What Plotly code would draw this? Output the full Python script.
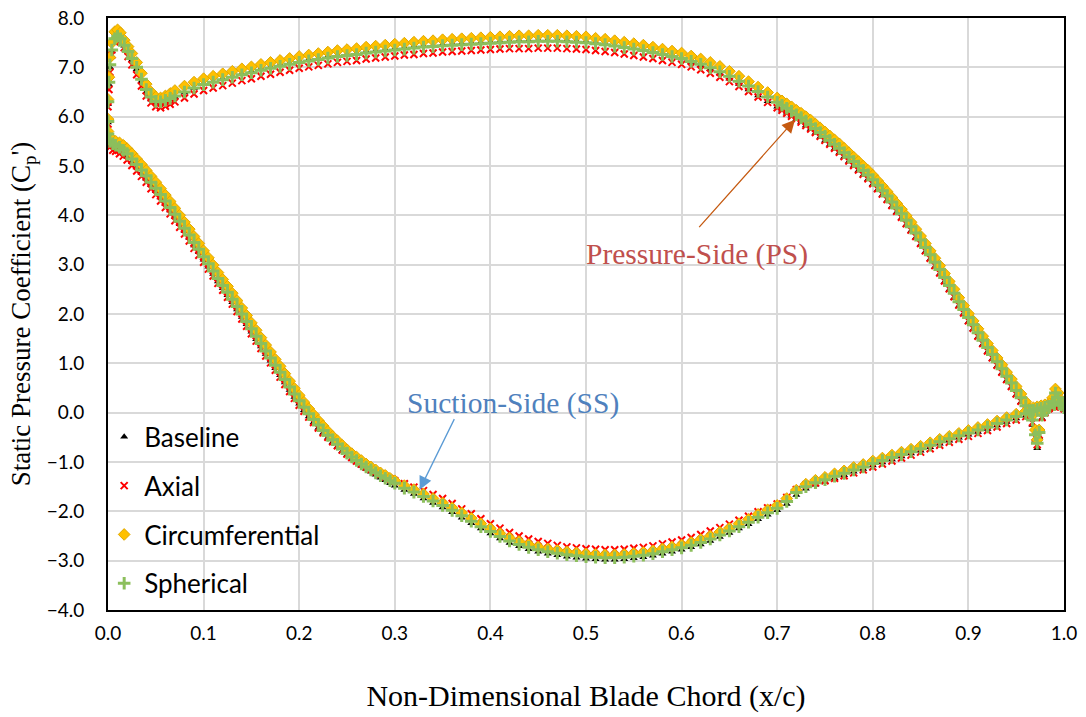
import plotly.graph_objects as go

# ---------------- data ----------------
X_PS = [0.000, 0.000, 0.001, 0.002, 0.004, 0.007, 0.010, 0.013, 0.017, 0.021, 0.025, 0.030, 0.035, 0.040, 0.045,
        0.050, 0.055, 0.060, 0.065, 0.070, 0.080, 0.090,
        0.10, 0.11, 0.12, 0.13, 0.14, 0.15, 0.16, 0.17, 0.18, 0.19,
        0.20, 0.21, 0.22, 0.23, 0.24, 0.25, 0.26, 0.27, 0.28, 0.29,
        0.30, 0.31, 0.32, 0.33, 0.34, 0.35, 0.36, 0.37, 0.38, 0.39,
        0.40, 0.41, 0.42, 0.43, 0.44, 0.45, 0.46, 0.47, 0.48, 0.49,
        0.50, 0.51, 0.52, 0.53, 0.54, 0.55, 0.56, 0.57, 0.58, 0.59,
        0.60, 0.61, 0.62, 0.63, 0.64, 0.65, 0.66, 0.67, 0.68, 0.69,
        0.700, 0.705, 0.710, 0.715, 0.720, 0.725, 0.730, 0.735, 0.740, 0.745,
        0.750, 0.755, 0.760, 0.765, 0.770, 0.775, 0.780, 0.785, 0.790, 0.795,
        0.800, 0.805, 0.810, 0.815, 0.820, 0.825, 0.830, 0.835, 0.840, 0.845,
        0.850, 0.855, 0.860, 0.865, 0.870, 0.875, 0.880, 0.885, 0.890, 0.895,
        0.900, 0.905, 0.910, 0.915, 0.920, 0.925, 0.930, 0.935, 0.940, 0.945,
        0.950, 0.955, 0.960,
        0.964, 0.967, 0.970, 0.972, 0.974, 0.977, 0.980, 0.984, 0.988, 0.991, 0.994, 0.997, 1.000]

X_SS = [0.000, 0.002, 0.005, 0.008, 0.012, 0.016, 0.020, 0.025, 0.030, 0.035, 0.040, 0.045, 0.050, 0.055, 0.060,
        0.065, 0.070, 0.075, 0.080, 0.085, 0.090, 0.095,
        0.100, 0.105, 0.110, 0.115, 0.120, 0.125, 0.130, 0.135, 0.140, 0.145,
        0.150, 0.155, 0.160, 0.165, 0.170, 0.175, 0.180, 0.185, 0.190, 0.195,
        0.200, 0.205, 0.210, 0.215, 0.220, 0.225, 0.230, 0.235, 0.240, 0.245,
        0.250, 0.255, 0.260, 0.265, 0.270, 0.275, 0.280, 0.285, 0.290, 0.295,
        0.300,
        0.31, 0.32, 0.33, 0.34, 0.35, 0.36, 0.37, 0.38, 0.39,
        0.40, 0.41, 0.42, 0.43, 0.44, 0.45, 0.46, 0.47, 0.48, 0.49,
        0.50, 0.51, 0.52, 0.53, 0.54, 0.55, 0.56, 0.57, 0.58, 0.59,
        0.60, 0.61, 0.62, 0.63, 0.64, 0.65, 0.66, 0.67, 0.68, 0.69,
        0.70, 0.71, 0.72, 0.73, 0.74, 0.75, 0.76, 0.77, 0.78, 0.79,
        0.80, 0.81, 0.82, 0.83, 0.84, 0.85, 0.86, 0.87, 0.88, 0.89,
        0.90, 0.91, 0.92, 0.93, 0.94, 0.95, 0.96,
        0.964, 0.968, 0.972, 0.976, 0.980, 0.985, 0.990, 0.995, 1.000]

# Baseline
BASE_PS = [5.88, 6.25, 6.65, 7.00, 7.32, 7.56, 7.62, 7.56, 7.44, 7.30, 7.15, 6.96, 6.72, 6.50, 6.35, 6.27, 6.26, 6.30, 6.35, 6.40, 6.49, 6.58,
           6.66, 6.72, 6.77, 6.82, 6.87, 6.92, 6.97, 7.01, 7.05, 7.09,
           7.13, 7.16, 7.19, 7.22, 7.25, 7.27, 7.29, 7.32, 7.34, 7.36,
           7.38, 7.40, 7.42, 7.44, 7.45, 7.47, 7.48, 7.49, 7.50, 7.51,
           7.52, 7.53, 7.54, 7.55, 7.55, 7.56, 7.56, 7.56, 7.55, 7.54,
           7.53, 7.51, 7.48, 7.45, 7.42, 7.39, 7.35, 7.31, 7.27, 7.22,
           7.18, 7.11, 7.04, 6.96, 6.87, 6.77, 6.66, 6.55, 6.43, 6.31,
           6.20, 6.14, 6.08, 6.02, 5.95, 5.89, 5.82, 5.75, 5.67, 5.59,
           5.51, 5.43, 5.35, 5.27, 5.18, 5.09, 5.00, 4.91, 4.82, 4.73,
           4.63, 4.52, 4.41, 4.30, 4.18, 4.06, 3.94, 3.81, 3.68, 3.55,
           3.41, 3.26, 3.11, 2.96, 2.81, 2.65, 2.49, 2.33, 2.16, 2.00,
           1.84, 1.69, 1.53, 1.38, 1.23, 1.09, 0.94, 0.80, 0.65, 0.51,
           0.36, 0.21, 0.05,
           -0.05, -0.25, -0.55, -0.72, -0.50, -0.12, 0.00, 0.06, 0.15, 0.32, 0.22, 0.10, 0.05]
BASE_SS = [5.60, 5.45, 5.40, 5.37, 5.33, 5.27, 5.19, 5.08, 4.97, 4.86, 4.74, 4.61, 4.49, 4.36, 4.23, 4.10, 3.96,
           3.82, 3.68, 3.54, 3.39, 3.25,
           3.10, 2.96, 2.81, 2.66, 2.52, 2.38, 2.24, 2.09, 1.94, 1.79,
           1.64, 1.49, 1.34, 1.19, 1.05, 0.90, 0.76, 0.61, 0.46, 0.32,
           0.18, 0.05, -0.08, -0.20, -0.31, -0.41, -0.51, -0.60, -0.69, -0.78,
           -0.86, -0.94, -1.01, -1.08, -1.14, -1.20, -1.26, -1.32, -1.37, -1.43,
           -1.48,
           -1.57, -1.65, -1.74, -1.83, -1.92, -2.02, -2.13, -2.24, -2.35,
           -2.45, -2.55, -2.64, -2.71, -2.77, -2.82, -2.86, -2.89, -2.92, -2.94,
           -2.96, -2.97, -2.98, -2.98, -2.97, -2.95, -2.93, -2.90, -2.86, -2.82,
           -2.78, -2.73, -2.67, -2.60, -2.52, -2.44, -2.35, -2.26, -2.16, -2.07,
           -1.98, -1.85, -1.67, -1.54, -1.46, -1.40, -1.33, -1.27, -1.20, -1.14,
           -1.07, -1.01, -0.95, -0.89, -0.83, -0.77, -0.70, -0.63, -0.57, -0.51,
           -0.45, -0.39, -0.33, -0.26, -0.19, -0.12, -0.06,
           -0.02, 0.02, 0.05, 0.07, 0.09, 0.11, 0.13, 0.15, 0.12]

# Axial
AXIAL_PS = [5.85, 6.20, 6.55, 6.90, 7.25, 7.52, 7.60, 7.55, 7.40, 7.22, 7.05, 6.85, 6.62, 6.42, 6.28, 6.20, 6.18, 6.21, 6.25, 6.30, 6.38, 6.46,
            6.53, 6.58, 6.63, 6.68, 6.73, 6.77, 6.82, 6.86, 6.90, 6.94,
            6.98, 7.01, 7.04, 7.07, 7.10, 7.12, 7.14, 7.17, 7.19, 7.21,
            7.23, 7.25, 7.26, 7.28, 7.29, 7.31, 7.32, 7.33, 7.34, 7.35,
            7.36, 7.37, 7.38, 7.38, 7.38, 7.39, 7.39, 7.39, 7.38, 7.37,
            7.36, 7.34, 7.32, 7.30, 7.27, 7.24, 7.21, 7.18, 7.14, 7.10,
            7.06, 7.01, 6.95, 6.88, 6.80, 6.71, 6.61, 6.51, 6.40, 6.29,
            6.18, 6.13, 6.07, 6.01, 5.95, 5.89, 5.82, 5.75, 5.68, 5.60,
            5.52, 5.44, 5.36, 5.28, 5.19, 5.10, 5.01, 4.92, 4.83, 4.74,
            4.64, 4.54, 4.43, 4.32, 4.20, 4.08, 3.96, 3.83, 3.70, 3.57,
            3.43, 3.28, 3.13, 2.98, 2.83, 2.67, 2.51, 2.35, 2.18, 2.02,
            1.86, 1.71, 1.55, 1.40, 1.25, 1.11, 0.96, 0.82, 0.67, 0.53,
            0.38, 0.23, 0.07,
            -0.02, -0.20, -0.50, -0.65, -0.45, -0.10, 0.00, 0.08, 0.20, 0.38, 0.28, 0.12, 0.08]
AXIAL_SS = [5.55, 5.38, 5.32, 5.30, 5.25, 5.20, 5.12, 5.01, 4.90, 4.79, 4.67, 4.54, 4.42, 4.29, 4.16, 4.03, 3.89,
            3.76, 3.62, 3.48, 3.33, 3.19,
            3.05, 2.91, 2.77, 2.62, 2.48, 2.34, 2.20, 2.05, 1.90, 1.75,
            1.60, 1.45, 1.30, 1.15, 1.01, 0.86, 0.72, 0.57, 0.43, 0.29,
            0.15, 0.03, -0.09, -0.20, -0.31, -0.41, -0.50, -0.59, -0.67, -0.76,
            -0.84, -0.91, -0.98, -1.04, -1.10, -1.15, -1.20, -1.25, -1.30, -1.34,
            -1.38,
            -1.44, -1.51, -1.58, -1.66, -1.74, -1.84, -1.95, -2.05, -2.15,
            -2.25, -2.34, -2.43, -2.50, -2.56, -2.61, -2.65, -2.69, -2.72, -2.74,
            -2.76, -2.77, -2.78, -2.78, -2.77, -2.75, -2.73, -2.70, -2.66, -2.62,
            -2.58, -2.53, -2.47, -2.40, -2.33, -2.26, -2.18, -2.10, -2.01, -1.93,
            -1.85, -1.72, -1.56, -1.46, -1.42, -1.38, -1.33, -1.28, -1.22, -1.16,
            -1.10, -1.04, -0.98, -0.92, -0.86, -0.80, -0.73, -0.66, -0.60, -0.54,
            -0.48, -0.42, -0.36, -0.29, -0.22, -0.15, -0.08,
            -0.03, 0.00, 0.03, 0.06, 0.08, 0.10, 0.12, 0.14, 0.12]

# Circumferential
CIRC_PS = [5.95, 6.35, 6.80, 7.20, 7.50, 7.72, 7.76, 7.70, 7.55, 7.42, 7.28, 7.10, 6.88, 6.66, 6.50, 6.40, 6.38, 6.42, 6.47, 6.53, 6.62, 6.70,
           6.77, 6.82, 6.87, 6.92, 6.97, 7.01, 7.06, 7.10, 7.14, 7.18,
           7.22, 7.25, 7.28, 7.31, 7.34, 7.36, 7.38, 7.41, 7.43, 7.45,
           7.47, 7.49, 7.51, 7.53, 7.54, 7.56, 7.57, 7.58, 7.59, 7.60,
           7.61, 7.62, 7.63, 7.64, 7.64, 7.65, 7.65, 7.65, 7.64, 7.63,
           7.62, 7.59, 7.57, 7.54, 7.51, 7.48, 7.45, 7.41, 7.37, 7.33,
           7.29, 7.23, 7.17, 7.10, 7.02, 6.92, 6.82, 6.71, 6.60, 6.49,
           6.38, 6.32, 6.26, 6.20, 6.13, 6.07, 6.00, 5.93, 5.85, 5.77,
           5.69, 5.61, 5.53, 5.45, 5.36, 5.27, 5.18, 5.09, 5.00, 4.91,
           4.81, 4.70, 4.59, 4.48, 4.36, 4.24, 4.12, 3.99, 3.86, 3.72,
           3.58, 3.43, 3.28, 3.13, 2.98, 2.82, 2.66, 2.50, 2.33, 2.17,
           2.01, 1.86, 1.70, 1.55, 1.40, 1.26, 1.11, 0.97, 0.82, 0.68,
           0.53, 0.38, 0.22,
           0.08, -0.05, -0.35, -0.55, -0.35, 0.00, 0.10, 0.18, 0.30, 0.48, 0.40, 0.25, 0.18]
CIRC_SS = [5.70, 5.58, 5.53, 5.50, 5.47, 5.42, 5.35, 5.25, 5.14, 5.03, 4.91, 4.79, 4.67, 4.54, 4.41, 4.28, 4.14,
           4.00, 3.86, 3.72, 3.57, 3.43,
           3.28, 3.14, 2.99, 2.84, 2.70, 2.56, 2.42, 2.27, 2.12, 1.97,
           1.82, 1.67, 1.52, 1.37, 1.23, 1.08, 0.94, 0.79, 0.64, 0.49,
           0.35, 0.21, 0.08, -0.04, -0.16, -0.27, -0.38, -0.48, -0.57, -0.66,
           -0.75, -0.83, -0.90, -0.97, -1.04, -1.10, -1.16, -1.22, -1.27, -1.33,
           -1.38,
           -1.48, -1.56, -1.65, -1.74, -1.83, -1.93, -2.03, -2.14, -2.25,
           -2.35, -2.45, -2.54, -2.61, -2.67, -2.72, -2.76, -2.79, -2.82, -2.84,
           -2.86, -2.87, -2.88, -2.88, -2.87, -2.85, -2.83, -2.80, -2.76, -2.72,
           -2.68, -2.63, -2.57, -2.50, -2.42, -2.34, -2.25, -2.16, -2.06, -1.97,
           -1.88, -1.74, -1.57, -1.45, -1.37, -1.31, -1.24, -1.18, -1.11, -1.05,
           -0.98, -0.92, -0.86, -0.80, -0.74, -0.68, -0.61, -0.54, -0.48, -0.42,
           -0.36, -0.30, -0.24, -0.17, -0.10, -0.03, 0.03,
           0.07, 0.10, 0.12, 0.14, 0.16, 0.18, 0.22, 0.24, 0.22]

# Spherical
SPH_PS = [5.90, 6.30, 6.70, 7.05, 7.35, 7.58, 7.63, 7.58, 7.45, 7.32, 7.18, 7.00, 6.76, 6.55, 6.40, 6.31, 6.30, 6.33, 6.37, 6.42, 6.50, 6.58,
          6.65, 6.70, 6.75, 6.80, 6.85, 6.89, 6.94, 6.98, 7.02, 7.06,
          7.10, 7.13, 7.16, 7.19, 7.22, 7.24, 7.26, 7.29, 7.31, 7.33,
          7.35, 7.37, 7.39, 7.41, 7.42, 7.44, 7.45, 7.46, 7.47, 7.48,
          7.49, 7.50, 7.51, 7.52, 7.52, 7.53, 7.53, 7.53, 7.52, 7.51,
          7.50, 7.48, 7.46, 7.43, 7.40, 7.37, 7.34, 7.30, 7.26, 7.22,
          7.18, 7.12, 7.06, 6.99, 6.91, 6.82, 6.72, 6.62, 6.51, 6.40,
          6.29, 6.23, 6.17, 6.11, 6.04, 5.98, 5.91, 5.84, 5.76, 5.68,
          5.60, 5.52, 5.44, 5.36, 5.27, 5.18, 5.09, 5.00, 4.91, 4.82,
          4.72, 4.61, 4.50, 4.39, 4.27, 4.15, 4.03, 3.90, 3.77, 3.64,
          3.50, 3.35, 3.20, 3.05, 2.90, 2.74, 2.58, 2.42, 2.25, 2.09,
          1.93, 1.78, 1.62, 1.47, 1.32, 1.18, 1.03, 0.89, 0.74, 0.60,
          0.45, 0.30, 0.14,
          0.03, -0.15, -0.45, -0.62, -0.40, -0.05, 0.05, 0.10, 0.22, 0.40, 0.30, 0.15, 0.10]
SPH_SS = [5.65, 5.50, 5.45, 5.42, 5.38, 5.32, 5.25, 5.14, 5.03, 4.92, 4.80, 4.67, 4.55, 4.42, 4.29, 4.16, 4.02,
          3.88, 3.74, 3.60, 3.45, 3.31,
          3.16, 3.02, 2.87, 2.72, 2.58, 2.44, 2.30, 2.15, 2.00, 1.85,
          1.70, 1.55, 1.40, 1.25, 1.11, 0.96, 0.82, 0.67, 0.52, 0.38,
          0.24, 0.11, -0.02, -0.14, -0.25, -0.36, -0.46, -0.55, -0.64, -0.73,
          -0.82, -0.90, -0.97, -1.04, -1.10, -1.16, -1.22, -1.28, -1.33, -1.38,
          -1.43,
          -1.53, -1.61, -1.70, -1.79, -1.88, -1.98, -2.09, -2.20, -2.31,
          -2.41, -2.51, -2.60, -2.67, -2.73, -2.78, -2.82, -2.85, -2.88, -2.90,
          -2.92, -2.93, -2.94, -2.94, -2.93, -2.91, -2.89, -2.86, -2.82, -2.78,
          -2.74, -2.69, -2.63, -2.56, -2.48, -2.40, -2.31, -2.22, -2.12, -2.03,
          -1.94, -1.80, -1.62, -1.50, -1.42, -1.36, -1.29, -1.23, -1.16, -1.10,
          -1.03, -0.97, -0.91, -0.85, -0.79, -0.73, -0.66, -0.59, -0.53, -0.47,
          -0.41, -0.35, -0.29, -0.22, -0.15, -0.08, -0.02,
          0.02, 0.05, 0.07, 0.09, 0.11, 0.13, 0.16, 0.18, 0.15]

SERIES_NAMES = ["Baseline", "Axial", "Circumferential", "Spherical"]
X_TICKS = [0.0, 0.1, 0.2, 0.3, 0.4, 0.5, 0.6, 0.7, 0.8, 0.9, 1.0]
Y_TICKS = [-4.0, -3.0, -2.0, -1.0, 0.0, 1.0, 2.0, 3.0, 4.0, 5.0, 6.0, 7.0, 8.0]

# ---------------- figure ----------------
series = [
    (SERIES_NAMES[0], BASE_PS, BASE_SS, dict(symbol="triangle-up", size=7, color="black")),
    (SERIES_NAMES[1], AXIAL_PS, AXIAL_SS, dict(symbol="x-thin", size=7, color="#FF0000",
                                                line=dict(color="#FF0000", width=2))),
    (SERIES_NAMES[2], CIRC_PS, CIRC_SS, dict(symbol="diamond", size=9, color="#FFC000",
                                               line=dict(color="#E0A800", width=1))),
    (SERIES_NAMES[3], SPH_PS, SPH_SS, dict(symbol="cross-thin", size=9, color="#8CBF5C",
                                            line=dict(color="#8CBF5C", width=3))),
]

fig = go.Figure()
for i, (name, yps, yss, mk) in enumerate(series):
    assert len(yps) == len(X_PS), (name, len(yps), len(X_PS))
    assert len(yss) == len(X_SS), (name, len(yss), len(X_SS))
    fig.add_trace(go.Scatter(
        x=X_PS + X_SS, y=yps + yss, mode="markers", name=name,
        legendgroup=f"g{i}", marker=mk,
    ))

fig.update_layout(
    width=1086, height=717,
    margin=dict(l=108, r=22, t=18, b=107),
    plot_bgcolor="white", paper_bgcolor="white",
    showlegend=True,
    legend=dict(
        x=-0.004, y=0.332, xanchor="left", yanchor="top",
        bgcolor="rgba(0,0,0,0)", font=dict(family="Lato", size=26, color="black"),
        traceorder="grouped", tracegroupgap=12,
    ),
    font=dict(family="Lato", color="black"),
)

fig.update_xaxes(
    range=[0, 1], tickvals=X_TICKS, tickformat=".1f", automargin=False,
    showgrid=True, gridcolor="#D9D9D9", gridwidth=1.5,
    showline=True, linecolor="black", linewidth=2, mirror=True,
    ticks="", ticklabelstandoff=5, ticklabeloverflow="allow",
    tickfont=dict(family="Lato", size=19, color="black"),
    zeroline=False,
    title=dict(text="Non-Dimensional Blade Chord (x/c)", standoff=42,
               font=dict(family="Liberation Serif", size=30, color="black")),
)
fig.update_yaxes(
    range=[-4, 8], tickvals=Y_TICKS, tickformat=".1f", automargin=False,
    showgrid=True, gridcolor="#D9D9D9", gridwidth=1.5,
    showline=True, linecolor="black", linewidth=2, mirror=True,
    ticks="", ticklabelstandoff=18, ticklabeloverflow="allow",
    tickfont=dict(family="Lato", size=19, color="black"),
    zeroline=False,
    title=dict(text="Static Pressure Coefficient (C<sub>p</sub>')", standoff=8,
               font=dict(family="Liberation Serif", size=27, color="black")),
)

# annotations: labels and arrows
fig.add_annotation(x=0.616, y=3.20, xref="x", yref="y", text="Pressure-Side (PS)",
                   showarrow=False, font=dict(family="Liberation Serif", size=29.5, color="#C0504D"))
fig.add_annotation(x=0.7186, y=5.94, ax=0.617, ay=3.73, xref="x", yref="y", axref="x", ayref="y",
                   text="", showarrow=True, arrowhead=2, arrowsize=2.0, arrowwidth=1.3,
                   arrowcolor="#C55A11")
fig.add_annotation(x=0.4236, y=0.18, xref="x", yref="y", text="Suction-Side (SS)",
                   showarrow=False, font=dict(family="Liberation Serif", size=29.5, color="#4F81BD"))
fig.add_annotation(x=0.326, y=-1.56, ax=0.363, ay=-0.1, xref="x", yref="y", axref="x", ayref="y",
                   text="", showarrow=True, arrowhead=2, arrowsize=2.0, arrowwidth=1.3,
                   arrowcolor="#5B9BD5")

# remove the browser's default 8 px body margin so the figure fills the window exactly
fig.write_html("out.html", config={"displayModeBar": False},
               post_script="document.body.style.margin='0px';")
